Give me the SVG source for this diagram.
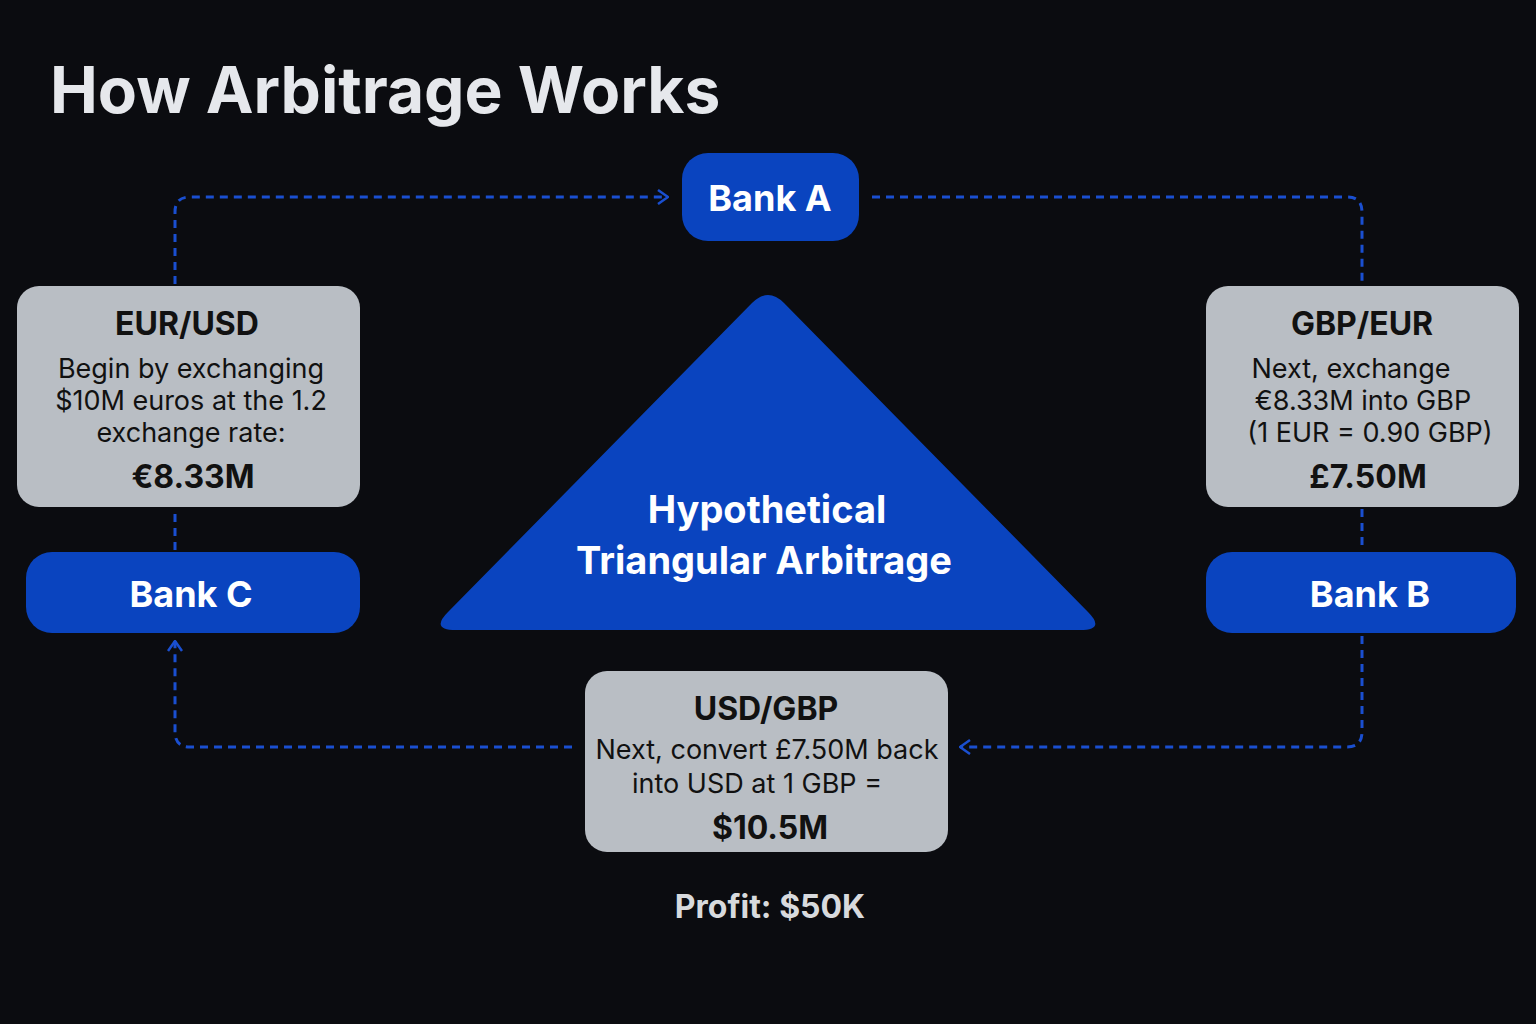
<svg xmlns="http://www.w3.org/2000/svg" width="1536" height="1024" viewBox="0 0 1536 1024">
<style>
.bank{fill:#0a44bf}
.box{fill:#b9bec4}
.bt{font-family:Inter,"Liberation Sans",sans-serif;font-weight:700;fill:#fff;text-anchor:middle}
.h{font-family:Inter,"Liberation Sans",sans-serif;font-weight:700;fill:#111;text-anchor:middle;font-size:32px}
.t{font-family:Inter,"Liberation Sans",sans-serif;fill:#111;text-anchor:middle;font-size:27px}
.c{fill:none;stroke:#1a4fd0;stroke-width:3;stroke-dasharray:8 6}
</style>
<defs>
<marker id="ar" viewBox="0 0 12 16" refX="11" refY="8" markerWidth="12" markerHeight="16" markerUnits="userSpaceOnUse" orient="auto">
<path d="M1,1 L11,8 L1,15" fill="none" stroke="#1a4fd0" stroke-width="2.5"/>
</marker>
</defs>
<rect width="1536" height="1024" fill="#0b0c10"/>
<text x="50" y="113" font-family="Inter,'Liberation Sans',sans-serif" font-weight="700" font-size="64" fill="#e6e8ec">How Arbitrage Works</text>
<g id="connectors">
<path class="c" d="M175,284 V212 Q175,197 190,197 H668" marker-end="url(#ar)"/>
<path class="c" d="M872,197 H1347 Q1362,197 1362,212 V284"/>
<path class="c" d="M1362,509 V550"/>
<path class="c" d="M1362,636 V732 Q1362,747 1347,747 H960" marker-end="url(#ar)"/>
<path class="c" d="M572,747 H190 Q175,747 175,732 V641" marker-end="url(#ar)"/>
<path class="c" d="M175,550 V509"/>
</g>
<g id="bankA"><rect class="bank" x="682" y="153" width="177" height="88" rx="26"/><text class="bt" x="770" y="211" font-size="36">Bank A</text></g>
<g id="eurusd"><rect class="box" x="17" y="286" width="343" height="221" rx="22"/>
<text class="h" x="187" y="335">EUR/USD</text>
<text class="t" x="191" y="378">Begin by exchanging</text>
<text class="t" x="191" y="410">$10M euros at the 1.2</text>
<text class="t" x="191" y="442">exchange rate:</text>
<text class="h" x="193" y="488">€8.33M</text></g>
<g id="bankC"><rect class="bank" x="26" y="552" width="334" height="81" rx="26"/><text class="bt" x="191" y="607" font-size="36">Bank C</text></g>
<g id="gbpeur"><rect class="box" x="1206" y="286" width="313" height="221" rx="22"/>
<text class="h" x="1362" y="335">GBP/EUR</text>
<text class="t" x="1351" y="378">Next, exchange</text>
<text class="t" x="1363" y="410">€8.33M into GBP</text>
<text class="t" x="1370" y="442">(1 EUR = 0.90 GBP)</text>
<text class="h" x="1368" y="488">£7.50M</text></g>
<g id="bankB"><rect class="bank" x="1206" y="552" width="310" height="81" rx="26"/><text class="bt" x="1370" y="607" font-size="36">Bank B</text></g>
<g id="triangle"><path d="M752,303 Q768,287 784,303 L1088,612 Q1106,630 1080,630 H456 Q430,630 448,612 Z" fill="#0a44bf"/>
<text class="bt" x="767" y="523" font-size="38">Hypothetical</text>
<text class="bt" x="764" y="574" font-size="38">Triangular Arbitrage</text></g>
<g id="usdgbp"><rect class="box" x="585" y="671" width="363" height="181" rx="22"/>
<text class="h" x="766" y="720">USD/GBP</text>
<text class="t" x="767" y="759">Next, convert £7.50M back</text>
<text class="t" x="757" y="793">into USD at 1 GBP =</text>
<text class="h" x="770" y="839">$10.5M</text></g>
<text x="770" y="918" font-family="Inter,'Liberation Sans',sans-serif" font-weight="700" font-size="32" fill="#d8dadd" text-anchor="middle">Profit: $50K</text>
</svg>
